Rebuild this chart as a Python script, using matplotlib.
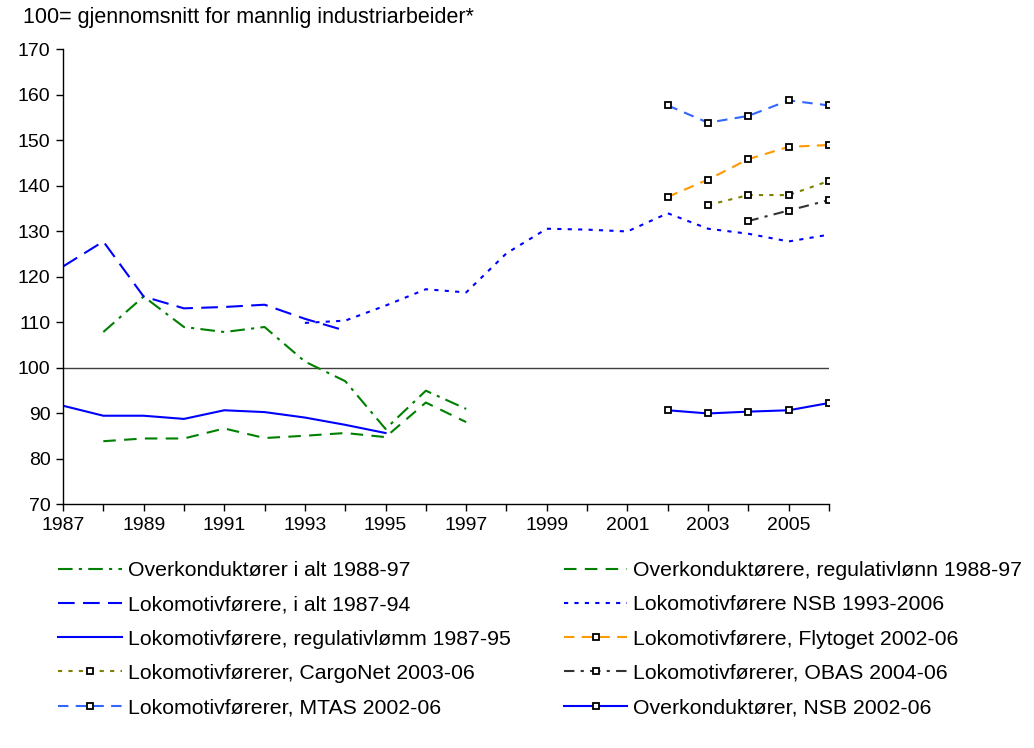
import matplotlib
matplotlib.use("Agg")
import matplotlib.pyplot as plt
import numpy as np

plt.rcParams["font.family"] = ["Liberation Sans", "DejaVu Sans"]

# values (index, 100 = male industrial worker average)
yrs_87_94 = np.arange(1987, 1995)
yrs_87_95 = np.arange(1987, 1996)
yrs_88_97 = np.arange(1988, 1998)
yrs_93_06 = np.arange(1993, 2007)
yrs_02_06 = np.arange(2002, 2007)
yrs_03_06 = np.arange(2003, 2007)
yrs_04_06 = np.arange(2004, 2007)

overk_ialt = [107.8, 115.6, 108.9, 107.8, 108.9, 101.3, 97.0, 86.5, 94.9, 90.9]
overk_reg = [83.8, 84.4, 84.4, 86.6, 84.5, 85.0, 85.6, 84.7, 92.3, 88.0]
loko_ialt = [122.2, 127.7, 115.6, 113.0, 113.3, 113.8, 110.7, 108.1]
loko_reg = [91.6, 89.4, 89.4, 88.7, 90.6, 90.2, 89.0, 87.4, 85.6]
loko_nsb = [109.8, 110.3, 113.6, 117.2, 116.5, 125.1, 130.5, 130.3, 129.9,
            133.9, 130.5, 129.4, 127.7, 129.2]
flytoget = [137.5, 141.3, 145.8, 148.5, 148.9]
cargonet = [135.7, 137.9, 137.9, 141.0]
obas = [132.2, 134.5, 136.8]
mtas = [157.6, 153.8, 155.3, 158.7, 157.6]
overk_nsb = [90.6, 89.9, 90.3, 90.6, 92.2]

reference_level = 100

fig = plt.figure(figsize=(10.34, 7.48), dpi=100)
ax = fig.add_axes([63 / 1034, 1 - 504 / 748, 766 / 1034, 455 / 748])

lw = 1.5
mk = dict(marker="s", markersize=5, markerfacecolor="white",
          markeredgecolor="black", markeredgewidth=1.3)

# full-width line at 100
ax.plot([1987, 2006], [reference_level, reference_level], color="#404040", lw=1.0, zorder=1)

h1, = ax.plot(yrs_88_97, overk_ialt, color="#008000", lw=lw, dashes=(7, 3, 1.5, 3),
              label="Overkonduktører i alt 1988-97")
h2, = ax.plot(yrs_87_94, loko_ialt, color="#0000FF", lw=lw, dashes=(8, 4),
              label="Lokomotivførere, i alt 1987-94")
h3, = ax.plot(yrs_87_95, loko_reg, color="#0000FF", lw=lw,
              label="Lokomotivførere, regulativlømm 1987-95")
h4, = ax.plot(yrs_03_06, cargonet, color="#808000", lw=lw, dashes=(2, 3),
              label="Lokomotivførerer, CargoNet 2003-06", **mk)
h5, = ax.plot(yrs_02_06, mtas, color="#3366FF", lw=lw, dashes=(5, 3.5),
              label="Lokomotivførerer, MTAS 2002-06", **mk)
h6, = ax.plot(yrs_88_97, overk_reg, color="#008000", lw=lw, dashes=(6, 4),
              label="Overkonduktørere, regulativlønn 1988-97")
h7, = ax.plot(yrs_93_06, loko_nsb, color="#0000FF", lw=lw, dashes=(2, 3),
              label="Lokomotivførere NSB 1993-2006")
h8, = ax.plot(yrs_02_06, flytoget, color="#FF9900", lw=lw, dashes=(5, 3.5),
              label="Lokomotivførere, Flytoget 2002-06", **mk)
h9, = ax.plot(yrs_04_06, obas, color="#333333", lw=lw, dashes=(5, 3, 1.5, 3),
              label="Lokomotivførerer, OBAS 2004-06", **mk)
h10, = ax.plot(yrs_02_06, overk_nsb, color="#0000FF", lw=lw,
               label="Overkonduktører, NSB 2002-06", **mk)

ax.set_xlim(1987, 2006)
ax.set_ylim(70, 170)
ax.set_yticks(np.arange(70, 171, 10))
ax.set_xticks(np.arange(1987, 2007))
ax.set_xticklabels([str(y) if y % 2 == 1 else "" for y in range(1987, 2007)])
ax.tick_params(axis="both", labelsize=14, length=5, width=1, color="black")
ax.tick_params(axis="y", pad=4)
ax.tick_params(axis="x", pad=4)
for s in ["top", "right"]:
    ax.spines[s].set_visible(False)
for s in ["left", "bottom"]:
    ax.spines[s].set_linewidth(1.0)

fig.text(23 / 1034, 1 - 18 / 748, "100= gjennomsnitt for mannlig industriarbeider*",
         fontsize=15.5, va="center", ha="left")

handles = [h1, h2, h3, h4, h5, h6, h7, h8, h9, h10]
fig.legend(handles=handles, labels=[h.get_label() for h in handles],
           ncol=2, frameon=False, fontsize=15.3, handlelength=3.0,
           handletextpad=0.28, columnspacing=2.5, labelspacing=0.72,
           borderpad=0, borderaxespad=0, loc="upper left",
           bbox_to_anchor=(58 / 1034, 1 - 561 / 748))

fig.savefig("out.png", dpi=100)
